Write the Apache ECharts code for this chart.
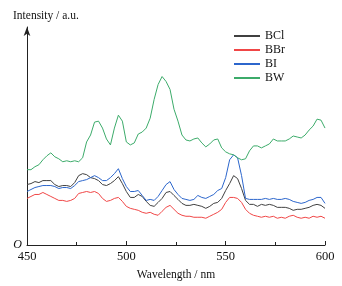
<!DOCTYPE html>
<html>
<head>
<meta charset="utf-8"/>
<title>Intensity vs Wavelength</title>
<style type="text/css">body,html{width:100%;height:100%;margin:0;background:#fff}#main{width:342px;height:286px}</style>
<script src="https://cdn.jsdelivr.net/npm/echarts@6/dist/echarts.min.js"></script>
</head>
<body>
<div id="main"></div>
<script>
	// wavelength grid, nm
	var wavelength = [];
	for (var w = 450; w <= 600; w += 2) wavelength.push(w);

	var seriesNames = ["BCl", "BBr", "BI", "BW"];

	var bcl = [61,62,64,63,65,65,65,61,59,60,60,59,63,70,72,71,68,67,65,61,
		60,62,65,69,62,54,48,48,51,49,44,40,39,43,47,53,54,50,46,42,
		40,40,41,40,39,37,39,42,43,47,55,62,70,67,57,45,41,41,39,41,
		40,41,40,38,38,38,37,35,36,36,37,38,40,41,40,37];
	var bbr = [47,49,51,51,53,51,49,47,45,45,44,45,47,52,53,54,53,54,52,47,
		44,45,47,48,44,39,37,36,35,33,32,33,31,30,34,38,40,36,32,30,
		29,29,28,28,28,27,29,31,33,36,43,48,48,47,43,36,32,30,29,28,
		29,28,29,27,28,27,29,30,28,27,28,27,29,28,29,27];
	var bi = [54,56,58,59,60,60,60,59,57,58,58,57,60,64,65,66,68,70,68,65,
		65,68,72,77,67,59,54,54,55,50,45,46,45,49,55,61,64,56,51,47,
		46,45,46,50,48,47,49,51,55,57,68,86,91,88,70,47,46,46,46,46,
		47,46,47,46,46,47,46,44,43,42,43,45,46,48,48,42];
	var bw = [76,76,79,81,86,90,93,89,87,84,85,84,85,84,88,104,111,124,125,118,
		107,101,118,131,125,104,101,103,112,114,118,128,147,162,170,165,157,137,125,111,
		106,105,107,108,103,99,102,106,107,98,94,92,91,88,86,87,95,100,100,98,
		100,102,107,105,105,105,107,110,109,108,111,116,120,127,126,118];

	var colors = ["#404040", "#f04646", "#2c66cc", "#3cab6a"];
	var values = [bcl, bbr, bi, bw];

	function pairs(ys) {
		var out = [];
		for (var i = 0; i < ys.length; i++) out.push([wavelength[i], ys[i]]);
		return out;
	}

	var series = [];
	for (var s = 0; s < seriesNames.length; s++) {
		series.push({
			name: seriesNames[s],
			type: "line",
			data: pairs(values[s]),
			showSymbol: false,
			lineStyle: {width: 1, color: colors[s]},
			itemStyle: {color: colors[s]}
		});
	}

	var font = "Liberation Serif";
	var myChart = echarts.init(document.getElementById("main"));
	var option = {
		animation: false,
		title: {
			text: "Intensity / a.u.",
			left: 8, top: 5,
			textStyle: {fontFamily: font, fontSize: 11.5, fontWeight: "normal", color: "#111"}
		},
		legend: {
			orient: "vertical",
			left: 229, top: 25,
			icon: "rect",
			itemWidth: 26, itemHeight: 2,
			itemGap: 2,
			textStyle: {fontFamily: font, fontSize: 12, color: "#111", lineHeight: 12},
			data: seriesNames
		},
		grid: {left: 27, right: 17, top: 27, bottom: 39},
		xAxis: {
			type: "value",
			min: 450, max: 600, interval: 50,
			name: "Wavelength / nm",
			nameLocation: "middle",
			nameGap: 24,
			nameTextStyle: {fontFamily: font, fontSize: 11.5, color: "#111"},
			axisLine: {lineStyle: {color: "#222", width: 1}},
			axisTick: {inside: true, length: 4, lineStyle: {color: "#222"}},
			minorTick: {show: true, splitNumber: 2, length: 3, lineStyle: {color: "#222"}},
			axisLabel: {fontFamily: font, fontSize: 12.5, color: "#111", margin: 5},
			splitLine: {show: false}
		},
		yAxis: {
			type: "value",
			min: 0, max: 220, interval: 220,
			axisLine: {show: true, symbol: ["none", "arrow"], symbolSize: [5, 9], lineStyle: {color: "#222", width: 1}},
			axisTick: {show: false},
			axisLabel: {
				fontFamily: font, fontSize: 12, fontStyle: "italic", color: "#111", margin: 5,
				formatter: function (v) { return v === 0 ? "O" : ""; }
			},
			splitLine: {show: false}
		},
		series: series
	};
	myChart.setOption(option);
</script>
</body>
</html>
